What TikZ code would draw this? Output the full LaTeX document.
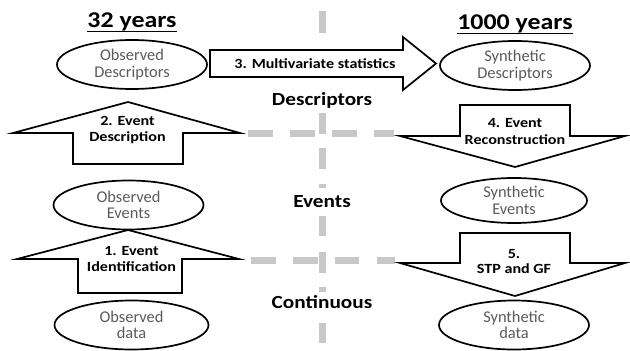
\documentclass[tikz,border=0pt]{standalone}
\usepackage{fontspec}
\setmainfont{Carlito}[FakeStretch=1.15]
\newfontfamily\ovalfont{Carlito}
\usetikzlibrary{shapes.geometric}
\definecolor{dashgray}{RGB}{200,200,200}
\definecolor{txtgray}{RGB}{90,90,90}
\begin{document}
\begin{tikzpicture}[x=1pt,y=-1pt,
  oval/.style={draw=black, line width=1.7pt, ellipse, minimum width=150pt, minimum height=49pt, inner sep=0pt, align=center, text=txtgray, font=\ovalfont\fontsize{16.4}{16.5}\selectfont},
  blockarrow/.style={draw=black, line width=1.7pt, fill=white, line join=miter},
  arrowlabel/.style={align=center, font=\bfseries\fontsize{14}{16.5}\selectfont, inner sep=0pt},
  levellabel/.style={font=\bfseries\fontsize{18.5}{20}\selectfont, inner sep=0pt, anchor=base},
  heading/.style={font=\bfseries\fontsize{22.5}{24}\selectfont, inner sep=0pt, anchor=base},
  gline/.style={dashgray, line width=7pt}
]
\useasboundingbox (0,0) rectangle (630,351);
% grey dashed separators
\foreach \a/\b in {11/33, 113/134, 148/169, 184/188, 216/236, 252/273, 287/292, 323/343}
  \draw[gline] (322.5,\a) -- (322.5,\b);
\foreach \a/\b in {248/273, 290/315, 332/357, 374/394}
  \draw[gline] (\a,133.5) -- (\b,133.5);
\foreach \a/\b in {251/276, 293/318, 335/359, 377/395}
  \draw[gline] (\a,260.5) -- (\b,260.5);
% block arrows
\draw[blockarrow] (128,102) -- (240,133) -- (183,133) -- (183,164) -- (73,164) -- (73,133) -- (13,133) -- cycle;
\draw[blockarrow] (128,230) -- (239,259) -- (182,259) -- (182,293) -- (78,293) -- (78,259) -- (17,259) -- cycle;
\draw[blockarrow] (210,50) -- (403,50) -- (403,37) -- (436,63.5) -- (403,90) -- (403,77) -- (210,77) -- cycle;
\draw[blockarrow] (460,105) -- (570,105) -- (570,136) -- (625,136) -- (515,167) -- (400,136) -- (460,136) -- cycle;
\draw[blockarrow] (460,233) -- (570,233) -- (570,263) -- (625,263) -- (515,296) -- (400,263) -- (460,263) -- cycle;
% ellipses
\node[oval] (od) at (132,64.5) {Observed\\Descriptors};
\node[oval] (sd) at (515,65.5) {Synthetic\\Descriptors};
\node[oval] (oe) at (128.5,205) {Observed\\Events};
\node[oval, minimum width=146pt, minimum height=45pt] (se) at (514,200.5) {Synthetic\\Events};
\node[oval, minimum width=154pt] (odata) at (131.5,325) {Observed\\data};
\node[oval] (sdata) at (514,325) {Synthetic\\data};
% arrow labels
\node[arrowlabel] (l2) at (127.5,130) {2. Event\\Description};
\node[arrowlabel] (l1) at (131.5,259) {1. Event\\Identification};
\node[arrowlabel] (l3) at (315,64) {3. Multivariate statistics};
\node[arrowlabel] (l4) at (515,131.5) {4. Event\\Reconstruction};
\node[arrowlabel, font=\bfseries\fontsize{14}{15}\selectfont] (l5) at (514,261.5) {5.\\STP and GF};
% level labels
\node[levellabel] (ldesc) at (322,105) {Descriptors};
\node[levellabel] (levt) at (322,207) {Events};
\node[levellabel] (lcont) at (322,308) {Continuous};
% headings
\node[heading] (h32) at (132,27) {32 years};
\node[heading] (h1000) at (515,29) {1000 years};
\draw[line width=1.5pt] ([yshift=-4.5pt]h32.base west) -- ([yshift=-4.5pt]h32.base east);
\draw[line width=1.5pt] ([yshift=-4.5pt]h1000.base west) -- ([yshift=-4.5pt]h1000.base east);
\end{tikzpicture}
\end{document}
